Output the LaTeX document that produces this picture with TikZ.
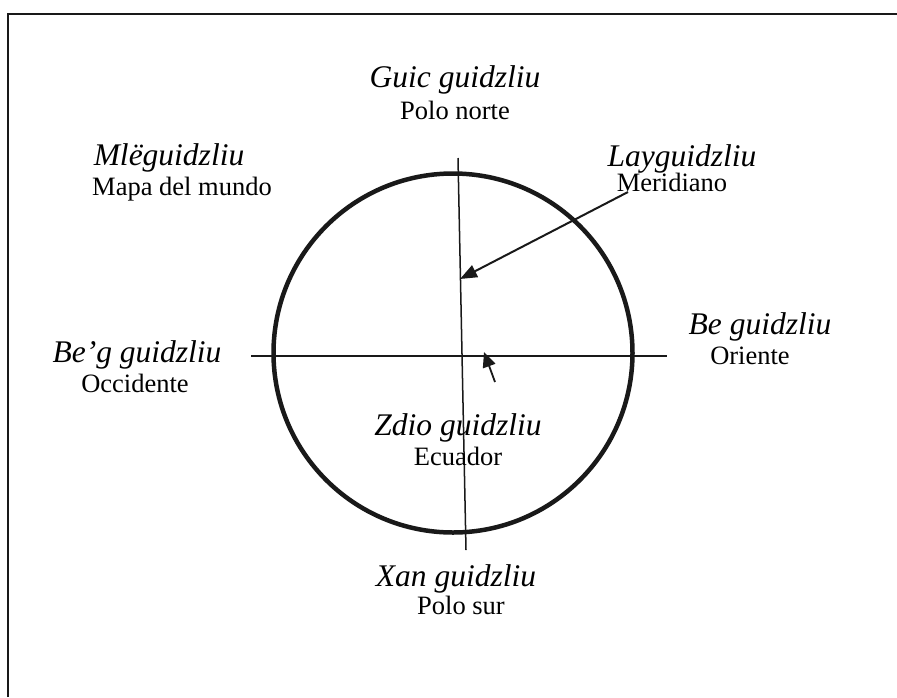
\documentclass[tikz,border=0pt]{standalone}
\usepackage{fontspec}
\setmainfont{Liberation Serif}
\usetikzlibrary{arrows.meta}
\tikzset{
  ital/.style={font=\fontsize{31.5}{36}\selectfont\itshape, anchor=base, inner sep=0pt},
  rom/.style={font=\fontsize{26.5}{30}\selectfont, anchor=base, inner sep=0pt},
  axis/.style={line width=1.8pt, black!90},
  pointer/.style={line width=2pt, black!90, -{Triangle[length=17pt,width=13pt]}},
}
\begin{document}
\begin{tikzpicture}[x=1pt,y=-1pt]
\useasboundingbox (0,0) rectangle (897,697);
% frame
\coordinate (fbl) at (8,697);
\coordinate (ftl) at (8,14);
\coordinate (ftr) at (897,14);
\draw[line width=1.8pt, black!90] (fbl) -- (ftl) -- (ftr);
% globe
\node[circle, draw, line width=4.5pt, black!90, minimum size=359pt, inner sep=0pt] (globe) at (453,353) {};
% axes
\coordinate (ntop) at (458,158);
\coordinate (nbot) at (466,550);
\coordinate (wend) at (251,356);
\coordinate (eend) at (667,356);
\draw[axis, line width=1.5pt] (ntop) -- (nbot);
\draw[axis] (wend) -- (eend);
% labels
\node[ital] (guic) at (455,87) {Guic guidzliu};
\node[rom] (pn) at (455,119) {Polo norte};
\node[ital] (mle) at (169,165) {Ml\"eguidzliu};
\node[rom] (mapa) at (182,195) {Mapa del mundo};
\node[ital] (lay) at (682,166) {Layguidzliu};
\node[rom] (meri) at (672,191) {Meridiano};
\node[ital] (be) at (760,334) {Be guidzliu};
\node[rom] (ori) at (750,364) {Oriente};
\node[ital] (beg) at (137,362) {Be’g guidzliu};
\node[rom] (occ) at (135,392) {Occidente};
\node[ital] (zdio) at (458,435) {Zdio guidzliu};
\node[rom] (ecu) at (458,465) {Ecuador};
\node[ital] (xan) at (456,586) {Xan guidzliu};
\node[rom] (ps) at (461,614) {Polo sur};
% pointers
\coordinate (mstart) at (628,192);
\coordinate (mtip) at (460,279);
\draw[pointer] (mstart) -- (mtip);
\coordinate (estart) at (495,382);
\coordinate (etip) at (484,352);
\draw[pointer, line width=1.8pt, -{Triangle[length=15pt,width=13pt]}] (estart) -- (etip);
\end{tikzpicture}
\end{document}
